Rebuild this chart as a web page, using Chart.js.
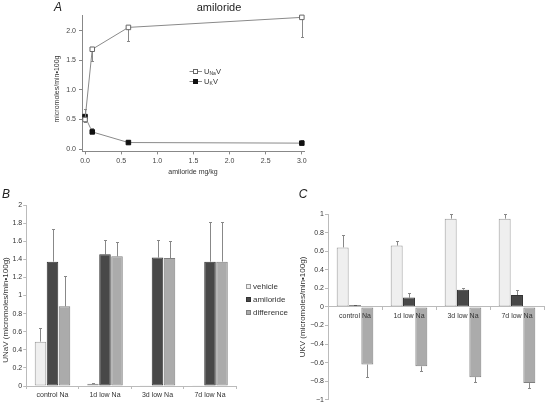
<!DOCTYPE html>
<html><head><meta charset="utf-8">
<script src="https://cdn.jsdelivr.net/npm/chart.js@4.4.1/dist/chart.umd.min.js"></script>
<style>
html,body{margin:0;padding:0;background:#fff;}
body{width:545px;height:405px;position:relative;overflow:hidden;}
canvas{position:absolute;}
</style></head><body>
<canvas id="cA" width="270" height="185" style="left:40px;top:0px"></canvas>
<canvas id="cB" width="290" height="220" style="left:0px;top:185px"></canvas>
<canvas id="cC" width="255" height="220" style="left:290px;top:185px"></canvas>
<script>
// ---- Panel A data ----
const doseA = [0, 0.1, 0.6, 3.0];
const unaV = [0.50, 1.69, 2.06, 2.23];
const unaVErr = [0.46, 1.49, 1.83, 1.89];
const ukV = [0.55, 0.29, 0.11, 0.10];
const ukVErr = [0.67, 0.36, 0.16, 0.16];
const xTicksA = [0, 0.5, 1.0, 1.5, 2.0, 2.5, 3.0];
const yTicksA = [0, 0.5, 1.0, 1.5, 2.0];
const seriesNamesA = [['U', 'Na', 'V'], ['U', 'K', 'V']];

// ---- Panel B data ----
const categories = ['control Na', '1d low Na', '3d low Na', '7d low Na'];
const seriesNames = ['vehicle', 'amiloride', 'difference'];
const vehicleB = [0.49, 0.026, 0.007, 0.007];
const vehicleBErr = [0.645, 0.033, null, null];
const amilorideB = [1.374, 1.455, 1.42, 1.374];
const amilorideBErr = [1.73, 1.61, 1.61, 1.81];
const differenceB = [0.88, 1.433, 1.414, 1.374];
const differenceBErr = [1.22, 1.59, 1.60, 1.81];
const yTicksB = [0, 0.2, 0.4, 0.6, 0.8, 1, 1.2, 1.4, 1.6, 1.8, 2];

// ---- Panel C data ----
const vehicleC = [0.64, 0.66, 0.95, 0.95];
const vehicleCErr = [0.77, 0.71, 1.0, 1.0];
const amilorideC = [0.018, 0.10, 0.185, 0.128];
const amilorideCErr = [0.025, 0.146, 0.207, 0.18];
const differenceC = [-0.62, -0.64, -0.756, -0.82];
const differenceCErr = [-0.75, -0.685, -0.81, -0.873];
const yTicksC = [-1, -0.8, -0.6, -0.4, -0.2, 0, 0.2, 0.4, 0.6, 0.8, 1];

const FAM = '"Liberation Sans", Arial, sans-serif';
Chart.defaults.font.family = FAM;
Chart.defaults.color = '#333';

const fillColors = ['#efefef', '#484848', '#ababab'];
const edgeColors = ['#9a9a9a', '#333333', '#808080'];

const errorBars = {
  id: 'errorBars',
  beforeDatasetsDraw(chart) {
    const ctx = chart.ctx, ys = chart.scales.y;
    chart.data.datasets.forEach((ds, i) => {
      if (!ds.errorTo) return;
      const meta = chart.getDatasetMeta(i);
      ctx.save();
      ctx.strokeStyle = '#888';
      ctx.lineWidth = 1;
      meta.data.forEach((el, j) => {
        const v = ds.errorTo[j];
        if (v == null) return;
        const x = Math.round(el.x) + 0.5;
        const y1 = Math.round(ys.getPixelForValue(v)) + 0.5;
        ctx.beginPath();
        ctx.moveTo(x, el.y); ctx.lineTo(x, y1);
        ctx.moveTo(x - 1.5, y1); ctx.lineTo(x + 1.5, y1);
        ctx.stroke();
      });
      ctx.restore();
    });
  }
};

// free text (titles, panel letters) drawn on the canvas
const texts = {
  id: 'texts',
  afterDraw(chart, args, opts) {
    const ctx = chart.ctx;
    (opts.items || []).forEach(t => {
      ctx.save();
      ctx.fillStyle = t.color || '#333';
      ctx.font = (t.style || '') + ' ' + t.size + 'px ' + FAM;
      ctx.textAlign = 'center'; ctx.textBaseline = 'middle';
      ctx.translate(t.x, t.y);
      if (t.rot) ctx.rotate(-Math.PI / 2);
      ctx.fillText(t.text, 0, 0);
      ctx.restore();
    });
  }
};

const legendA = {
  id: 'legendA',
  afterDraw(chart) {
    const ctx = chart.ctx;
    const rows = [71, 81];
    chart.data.datasets.forEach((ds, i) => {
      const y = rows[i];
      ctx.save();
      ctx.strokeStyle = '#8a8a8a'; ctx.lineWidth = 1;
      ctx.beginPath(); ctx.moveTo(149.5, y + 0.5); ctx.lineTo(162, y + 0.5); ctx.stroke();
      ctx.fillStyle = ds.pointBackgroundColor; ctx.strokeStyle = ds.pointBorderColor;
      ctx.fillRect(153.5, y - 1.5, 4, 4); ctx.strokeRect(153.5, y - 1.5, 4, 4);
      const parts = seriesNamesA[i];
      ctx.fillStyle = '#333'; ctx.textBaseline = 'middle';
      let x = 164;
      ctx.font = '7.5px ' + FAM; ctx.fillText(parts[0], x, y + 0.5); x += ctx.measureText(parts[0]).width;
      ctx.font = '5px ' + FAM; ctx.fillText(parts[1], x, y + 2.5); x += ctx.measureText(parts[1]).width + 0.3;
      ctx.font = '7.5px ' + FAM; ctx.fillText(parts[2], x, y + 0.5);
      ctx.restore();
    });
  }
};

const legendB = {
  id: 'legendB',
  afterDraw(chart) {
    const ctx = chart.ctx;
    const rows = [101.7, 115, 127.7];
    chart.data.datasets.forEach((ds, i) => {
      const y = rows[i];
      ctx.save();
      ctx.fillStyle = ds.backgroundColor; ctx.strokeStyle = ds.borderColor; ctx.lineWidth = 1;
      ctx.fillRect(246.5, Math.round(y) - 2.5, 4, 4); ctx.strokeRect(246.5, Math.round(y) - 2.5, 4, 4);
      ctx.fillStyle = '#333'; ctx.textBaseline = 'middle';
      ctx.font = '8px ' + FAM;
      ctx.fillText(ds.label, 253, y);
      ctx.restore();
    });
  }
};

const fmt = v => String(Math.round(v * 10) / 10).replace('-', '\u2212');

// ---- Chart A ----
new Chart(document.getElementById('cA'), {
  type: 'line',
  data: {
    datasets: [
      { label: 'UNaV', data: doseA.map((x, i) => ({ x, y: unaV[i] })), errorTo: unaVErr,
        borderColor: '#8a8a8a', borderWidth: 1, pointStyle: 'rect', pointRadius: 3.2,
        pointBackgroundColor: '#ffffff', pointBorderColor: '#666666', pointBorderWidth: 1, tension: 0, clip: false },
      { label: 'UKV', data: doseA.map((x, i) => ({ x, y: ukV[i] })), errorTo: ukVErr,
        borderColor: '#8a8a8a', borderWidth: 1, pointStyle: 'rect', pointRadius: 3.2,
        pointBackgroundColor: '#111111', pointBorderColor: '#111111', pointBorderWidth: 1, tension: 0, clip: false }
    ]
  },
  options: {
    responsive: false, animation: false, devicePixelRatio: 1,
    layout: { padding: { top: 15, right: 6, left: 0, bottom: 0 } },
    plugins: {
      legend: { display: false }, tooltip: { enabled: false },
      texts: { items: [
        { text: 'A', x: 18, y: 8, size: 12, style: 'italic', color: '#222' },
        { text: 'amiloride', x: 179, y: 8, size: 11, color: '#222' },
        { text: 'amiloride mg/kg', x: 153, y: 172, size: 7 },
        { text: 'micromoles/min•100g', x: 17, y: 89, size: 7, rot: true }
      ] }
    },
    scales: {
      x: {
        type: 'linear', min: -0.042, max: 3.03,
        afterBuildTicks: s => { s.ticks = xTicksA.map(v => ({ value: v })); },
        afterFit: s => { s.height = 33.6; },
        ticks: { callback: v => v.toFixed(1), font: { size: 7 }, color: '#444', padding: 2, maxRotation: 0, autoSkip: false },
        grid: { drawOnChartArea: false, drawTicks: true, tickLength: 3, color: '#888' },
        border: { display: true, color: '#888' }
      },
      y: {
        min: -0.04, max: 2.27,
        afterBuildTicks: s => { s.ticks = yTicksA.map(v => ({ value: v })); },
        afterFit: s => { s.width = 42; },
        ticks: { callback: v => v.toFixed(1), font: { size: 7 }, color: '#444', padding: 3 },
        grid: { drawOnChartArea: false, drawTicks: true, tickLength: 3, color: '#888' },
        border: { display: true, color: '#888' }
      }
    }
  },
  plugins: [errorBars, legendA, texts]
});

function barSets(vals, errs) {
  return vals.map((v, i) => ({
    label: seriesNames[i], data: v, errorTo: errs[i],
    backgroundColor: fillColors[i], borderColor: edgeColors[i], borderWidth: 1, borderSkipped: false
  }));
}

// ---- Chart B ----
new Chart(document.getElementById('cB'), {
  type: 'bar',
  data: { labels: categories, datasets: barSets([vehicleB, amilorideB, differenceB], [vehicleBErr, amilorideBErr, differenceBErr]) },
  options: {
    responsive: false, animation: false, devicePixelRatio: 1,
    datasets: { bar: { categoryPercentage: 0.686, barPercentage: 0.96 } },
    layout: { padding: { top: 20, right: 53.75, left: 0, bottom: 0 } },
    plugins: {
      legend: { display: false }, tooltip: { enabled: false },
      texts: { items: [
        { text: 'B', x: 6, y: 10, size: 12, style: 'italic', color: '#222' },
        { text: 'UNaV (micromoles/min•100g)', x: 6, y: 125, size: 8, rot: true }
      ] }
    },
    scales: {
      x: {
        afterFit: s => { s.height = 19; },
        grid: { offset: true, drawOnChartArea: false, tickLength: 3, color: '#bbb' },
        border: { color: '#bbb' },
        ticks: { font: { size: 7 }, color: '#333', padding: 2, maxRotation: 0, autoSkip: false }
      },
      y: {
        min: 0, max: 2,
        afterBuildTicks: s => { s.ticks = yTicksB.map(v => ({ value: v })); },
        afterFit: s => { s.width = 26.25; },
        ticks: { callback: fmt, font: { size: 7 }, color: '#333', padding: 1 },
        grid: { drawOnChartArea: false, tickLength: 3, color: '#bbb' },
        border: { color: '#bbb' }
      }
    }
  },
  plugins: [errorBars, legendB, texts]
});

// ---- Chart C ----
new Chart(document.getElementById('cC'), {
  type: 'bar',
  data: { labels: categories, datasets: barSets([vehicleC, amilorideC, differenceC], [vehicleCErr, amilorideCErr, differenceCErr]) },
  options: {
    responsive: false, animation: false, devicePixelRatio: 1,
    datasets: { bar: { categoryPercentage: 0.685, barPercentage: 0.97 } },
    layout: { padding: { top: 29, right: 1, left: 0, bottom: 3.7 } },
    plugins: {
      legend: { display: false }, tooltip: { enabled: false },
      texts: { items: [
        { text: 'C', x: 13, y: 10, size: 12, style: 'italic', color: '#222' },
        { text: 'UKV (micromoles/min•100g)', x: 13, y: 122, size: 8, rot: true }
      ] }
    },
    scales: {
      x: {
        position: { y: 0 },
        grid: { offset: true, drawOnChartArea: false, tickLength: 3, color: '#bbb', z: 1 },
        border: { color: '#bbb', z: 1 },
        ticks: { font: { size: 7 }, color: '#333', padding: 2, maxRotation: 0, autoSkip: false, z: 1 }
      },
      y: {
        min: -1, max: 1,
        afterBuildTicks: s => { s.ticks = yTicksC.map(v => ({ value: v })); },
        afterFit: s => { s.width = 38; },
        ticks: { callback: fmt, font: { size: 7 }, color: '#333', padding: 1 },
        grid: { drawOnChartArea: false, tickLength: 3, color: '#bbb' },
        border: { color: '#bbb' }
      }
    }
  },
  plugins: [errorBars, texts]
});
</script>
</body></html>
